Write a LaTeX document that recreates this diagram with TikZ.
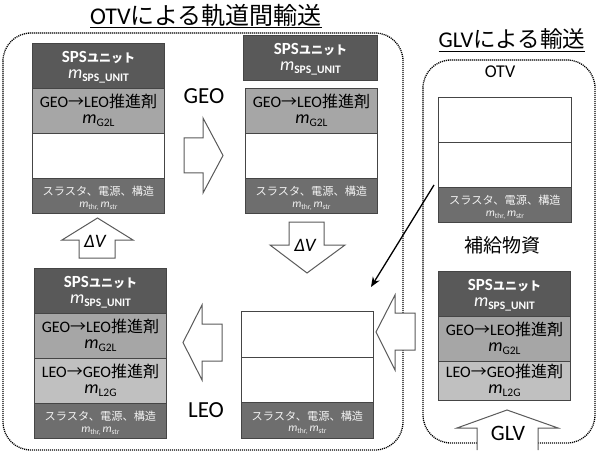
\documentclass[tikz,border=0pt]{standalone}
\usepackage{fontspec}
\setmainfont{Carlito}
\newfontfamily\jp{Noto Sans CJK JP}
\usetikzlibrary{arrows.meta}
\definecolor{spsgray}{HTML}{595959}
\definecolor{thrgray}{HTML}{6E6E6E}
\definecolor{g2lgray}{HTML}{A6A6A6}
\definecolor{l2ggray}{HTML}{C0C0C0}
\definecolor{edgegray}{HTML}{454545}
\definecolor{arrgray}{HTML}{5A5A5A}
\newcommand{\msub}[3]{{\fontsize{#1}{#1}\selectfont\itshape m}\raisebox{-0.35ex}{\fontsize{#2}{#2}\selectfont #3}}
\newcommand{\spstext}{{\fontsize{17}{17}\selectfont\bfseries SPS{\fontsize{12}{12}\selectfont\jp ユニット}}\\\msub{18}{11.5}{\bfseries SPS\_UNIT}}
\newcommand{\gtltext}{{\fontsize{16}{16}\selectfont GEO{\jp →}LEO{\jp 推進剤}}\\\msub{18}{11.5}{G2L}}
\newcommand{\ltgtext}{{\fontsize{16}{16}\selectfont LEO{\jp →}GEO{\jp 推進剤}}\\\msub{18}{11.5}{L2G}}
\newcommand{\thrtext}{{\fontsize{11.2}{11.2}\selectfont\jp スラスタ、電源、構造}\\\msub{11.5}{7.5}{thr,}\,\msub{11.5}{7.5}{str}}
\tikzset{
  sec/.style={draw=edgegray, line width=0.9pt, inner sep=0pt, align=center, anchor=north west,
    font=\fontsize{16}{16}\selectfont, text height=28pt, text depth=3pt},
  spsbox/.style={sec, fill=spsgray, text=white},
  gtlbox/.style={sec, fill=g2lgray, text=black},
  ltgbox/.style={sec, fill=l2ggray, text=black},
  emptybox/.style={sec, fill=white},
  thrbox/.style={sec, fill=thrgray, text=white!95!black, font=\fontsize{11}{11.5}\selectfont,
    text height=25pt, text depth=2pt},
  region/.style={draw=black, line width=1.3pt, dash pattern=on 1.1pt off 0.9pt, rounded corners=28pt},
  blockarr/.style={draw=arrgray, line width=1pt, fill=white, line join=miter},
  lbl/.style={inner sep=0pt, font=\fontsize{23}{23}\selectfont},
  dvlbl/.style={inner sep=0pt, font=\fontsize{19}{19}\selectfont\itshape},
  ttl/.style={inner sep=0pt}
}
\begin{document}
\begin{tikzpicture}[x=1pt,y=-1pt]
\useasboundingbox (0,0) rectangle (596,454);
% regions
\draw[region] (3,33) rectangle (403,450);
\draw[region] (423,60) rectangle (595,443);
% titles
\node[ttl, font=\fontsize{24}{24}\selectfont] (title1) at (206,16) {\underline{OTV{\jp による軌道間輸送}}};
\node[ttl, font=\fontsize{22.5}{22.5}\selectfont] (title2) at (512,40) {\underline{GLV{\jp による輸送}}};
% stack 1
\node[spsbox, minimum width=132pt, minimum height=45pt] (s1a) at (32,43) {\spstext};
\node[gtlbox, minimum width=132pt, minimum height=45pt] (s1b) at (32,88) {\gtltext};
\node[emptybox, minimum width=132pt, minimum height=45pt] (s1c) at (32,133) {};
\node[thrbox, minimum width=132pt, minimum height=35pt] (s1d) at (32,178) {\thrtext};
% stack 2
\node[spsbox, minimum width=134pt, minimum height=45pt] (s2a) at (243,35) {\spstext};
\node[gtlbox, minimum width=132pt, minimum height=45pt] (s2b) at (245,88) {\gtltext};
\node[emptybox, minimum width=132pt, minimum height=45pt] (s2c) at (245,133) {};
\node[thrbox, minimum width=132pt, minimum height=35pt] (s2d) at (245,178) {\thrtext};
% stack 3
\node[spsbox, minimum width=132pt, minimum height=45pt] (s3a) at (34,268) {\spstext};
\node[gtlbox, minimum width=132pt, minimum height=45pt] (s3b) at (34,313) {\gtltext};
\node[ltgbox, minimum width=132pt, minimum height=45pt] (s3c) at (34,358) {\ltgtext};
\node[thrbox, minimum width=132pt, minimum height=35pt] (s3d) at (34,403) {\thrtext};
% stack 4
\node[emptybox, minimum width=132pt, minimum height=46pt] (s4a) at (241,311) {};
\node[emptybox, minimum width=132pt, minimum height=45pt] (s4b) at (241,357) {};
\node[thrbox, minimum width=132pt, minimum height=36pt] (s4c) at (241,402) {\thrtext};
% stack 5 (OTV)
\node[emptybox, minimum width=133pt, minimum height=45pt] (s5a) at (438,97) {};
\node[emptybox, minimum width=133pt, minimum height=45pt] (s5b) at (438,142) {};
\node[thrbox, minimum width=133pt, minimum height=35pt] (s5c) at (438,187) {\thrtext};
% stack 6 (supplies)
\node[spsbox, minimum width=132pt, minimum height=45pt] (s6a) at (438,271) {\spstext};
\node[gtlbox, minimum width=132pt, minimum height=45pt] (s6b) at (438,316) {\gtltext};
\node[ltgbox, minimum width=132pt, minimum height=39pt] (s6c) at (438,361) {\ltgtext};
% labels
\node[lbl] (geo) at (204,96) {GEO};
\node[lbl] (leo) at (206,410) {LEO};
\node[lbl, font=\fontsize{18}{18}\selectfont] (otv) at (500,72) {OTV};
\node[lbl, font=\fontsize{19}{19}\selectfont\jp] (hokyu) at (502,245) {補給物資};
% block arrows
\draw[blockarr] (184,138) -- (203,138) -- (203,118) -- (223,155.5) -- (203,193) -- (203,173) -- (184,173) -- cycle;
\draw[blockarr] (289,222) -- (324,222) -- (324,245) -- (345,245) -- (307,273) -- (270,245) -- (289,245) -- cycle;
\draw[blockarr] (79,258) -- (79,240) -- (62,240) -- (97.5,218) -- (133,240) -- (115,240) -- (115,258) -- cycle;
\draw[blockarr] (222,324) -- (202,324) -- (202,305) -- (183,342.5) -- (202,380) -- (202,361) -- (222,361) -- cycle;
\draw[blockarr] (415,313) -- (395,313) -- (395,295) -- (376,332) -- (395,370) -- (395,350) -- (415,350) -- cycle;
\draw[blockarr] (477,450) -- (477,428) -- (457,428) -- (507,410) -- (558,428) -- (538,428) -- (538,450);
\node[dvlbl] (dv1) at (305,245) {ΔV};
\node[dvlbl] (dv2) at (95,241) {ΔV};
\node[lbl, font=\fontsize{22}{22}\selectfont] (glv) at (508,433) {GLV};
% diagonal arrow
\coordinate (dstart) at (434,185);
\coordinate (dend) at (371,287);
\draw[line width=1.3pt, -{Stealth[length=10pt,width=8pt]}] (dstart) -- (dend);
\end{tikzpicture}
\end{document}
